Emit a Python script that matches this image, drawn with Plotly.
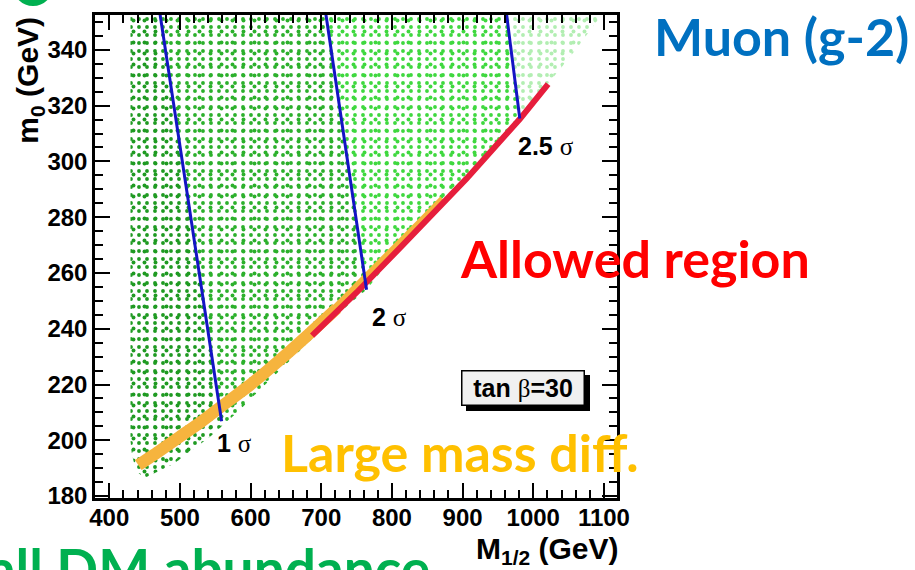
import plotly.graph_objects as go

# ---------------- data ----------------
# axis
x_range = [379.8, 1118.5]
y_range = [179.3, 352.5]
x_ticks = [400, 500, 600, 700, 800, 900, 1000, 1100]
y_ticks = [180, 200, 220, 240, 260, 280, 300, 320, 340]

# scanned-point regions (boundaries in M1/2 [GeV], m0 [GeV])
dark_M = [430, 471.7, 559.0, 559.0, 546, 522, 490, 450, 438, 432, 430]
dark_m0 = [353, 353, 206.85, 205.0, 202.0, 197.3, 191.4, 186.5, 189.0, 195.0, 200.0]

mid_M = [471.7, 706.4, 764.1, 740, 700, 663, 644, 611, 583, 559, 559]
mid_m0 = [353, 353, 254.0, 249.0, 239.5, 230.5, 225.9, 217.6, 210.4, 205.0, 206.85]

bright_M = [706.4, 962.1, 980.9, 945, 905.5, 860, 811, 764.1]
bright_m0 = [353, 353, 315.4, 305.0, 293.8, 281.5, 268.9, 254.0]

pale_M = [962.1, 1098, 1060, 1020.9, 980.9]
pale_m0 = [353, 353, 340.0, 327.7, 315.4]

# large mass difference band (orange)
band_M = [441, 470, 500, 530, 559, 600, 640, 680, 722]
band_m0 = [191.1, 196.0, 201.3, 206.6, 212.2, 220.0, 228.5, 237.5, 247.3]
band2_M = [700, 740, 770, 800, 840, 872]
band2_m0 = [242.4, 252.3, 260.0, 268.0, 278.2, 286.5]

# allowed region (red)
red_M = [687, 750, 811, 860, 905.5, 945, 981, 1021]
red_m0 = [237.5, 253.0, 268.9, 281.5, 293.8, 305.0, 315.2, 327.7]

# muon g-2 contours
s1_M = [471.7, 559.0]
s1_m0 = [353, 206.85]
s2_M = [706.4, 764.1]
s2_m0 = [353, 254.0]
s25_M = [962.1, 980.9]
s25_m0 = [353, 315.4]

sigma_labels = ["1", "2", "2.5"]
sigma_M = [577.8, 797.0, 1018.3]
sigma_m0 = [199.1, 244.2, 305.5]

# ---------------- figure ----------------
fig = go.Figure()

def region(M, m0, col):
    for size, solid in [(8, 0.18), (11, 0.10)]:
        fig.add_trace(go.Scatter(
            x=M, y=m0, mode="lines", fill="toself",
            line=dict(width=0, color=col),
            fillcolor="rgba(0,0,0,0)",
            fillpattern=dict(shape=".", fgcolor=col, bgcolor="rgba(255,255,255,0)",
                             size=size, solidity=solid, fillmode="replace"),
            hoverinfo="skip", showlegend=False))

region(dark_M, dark_m0, "#1f9a22")
region(mid_M, mid_m0, "#2cb02c")
region(bright_M, bright_m0, "#3fd83f")
region(pale_M, pale_m0, "#b2eeb2")

fig.add_trace(go.Scatter(x=band_M, y=band_m0, mode="lines",
                         line=dict(color="#f6b43e", width=12, shape="spline", smoothing=0.6),
                         hoverinfo="skip", showlegend=False))
fig.add_trace(go.Scatter(x=band2_M, y=band2_m0, mode="lines",
                         line=dict(color="#f6b43e", width=7),
                         hoverinfo="skip", showlegend=False))
fig.add_trace(go.Scatter(x=red_M, y=red_m0, mode="lines",
                         line=dict(color="#e61e3c", width=6),
                         hoverinfo="skip", showlegend=False))
for M, m0 in [(s1_M, s1_m0), (s2_M, s2_m0), (s25_M, s25_m0)]:
    fig.add_trace(go.Scatter(x=M, y=m0, mode="lines",
                             line=dict(color="#1414c4", width=3),
                             hoverinfo="skip", showlegend=False))

# sigma labels
for lab, M, m0 in zip(sigma_labels, sigma_M, sigma_m0):
    fig.add_annotation(
        x=M, y=m0, xref="x", yref="y", showarrow=False,
        xanchor="center", yanchor="middle",
        text=lab + " <span style='font-family:Liberation Serif;font-weight:normal'>σ</span>",
        font=dict(family="Liberation Sans", size=25, color="black", weight="bold"))

W, H = 915, 570
L, R, T, B = 95, 915 - 617.3, 12, 72
pw, ph = W - L - R, H - T - B

def px(xp):
    return (xp - L) / pw

def py(yp):
    return (H - B - yp) / ph

# tan beta box (shadow + box)
for dx, bg, fc in [(5, "black", "black"), (0, "#f0f0f0", "black")]:
    fig.add_annotation(
        x=px(523.5), y=py(387.5), xref="paper", yref="paper", showarrow=False,
        xanchor="center", yanchor="middle",
        xshift=dx, yshift=-dx,
        text="tan <span style='font-family:Liberation Serif;font-weight:normal'>β</span>=30",
        font=dict(family="Liberation Sans", size=25, color=fc, weight="bold"),
        bgcolor=bg, bordercolor="black", borderwidth=1.5, borderpad=1,
        width=119, height=31)

# axis titles
fig.add_annotation(x=px(30), y=py(78), xref="paper", yref="paper", showarrow=False,
                   xanchor="center", yanchor="middle",
                   text="m<sub>0</sub> (GeV)", textangle=-90,
                   font=dict(family="Liberation Sans", size=30, color="black", weight="bold"))
fig.add_annotation(x=px(621), y=py(551), xref="paper", yref="paper", showarrow=False,
                   xanchor="right", yanchor="middle",
                   text="M<sub>1/2</sub> (GeV)",
                   font=dict(family="Liberation Sans", size=30, color="black", weight="bold"))

# slide texts
big = dict(family="Lato", size=52, weight="bold")
fig.add_annotation(x=px(782), y=py(33), xref="paper", yref="paper", showarrow=False,
                   xanchor="center", yanchor="middle",
                   text="Muon (g-2)", font=dict(big, color="#0070C0"))
fig.add_annotation(x=px(635), y=py(257), xref="paper", yref="paper", showarrow=False,
                   xanchor="center", yanchor="middle",
                   text="Allowed region", font=dict(big, color="#FF0000"))
fig.add_annotation(x=px(460), y=py(452), xref="paper", yref="paper", showarrow=False,
                   xanchor="center", yanchor="middle",
                   text="Large mass diff.", font=dict(big, color="#FFC000"))
fig.add_annotation(x=px(432), y=py(568), xref="paper", yref="paper", showarrow=False,
                   xanchor="right", yanchor="middle",
                   text="Small DM abundance",
                   font=dict(family="Lato", size=55, weight="bold", color="#00B050"))

# partial decorative circle top-left
fig.add_shape(type="circle", xref="paper", yref="paper",
              x0=px(13), x1=px(53), y0=py(3), y1=py(-37),
              fillcolor="#00B050", line=dict(width=0), layer="above")

axis_common = dict(
    showgrid=False, zeroline=False, showline=True, linecolor="black", linewidth=2.5,
    mirror="allticks", ticks="inside", ticklen=15, tickwidth=1.5, tickcolor="black",
    tickfont=dict(family="Liberation Sans", size=24, color="black", weight="bold"),
)
fig.update_xaxes(range=x_range, tickvals=x_ticks, ticklabelstandoff=-4,
                 minor=dict(ticks="inside", ticklen=8, tickwidth=1.5, tickcolor="black", dtick=20, tick0=400),
                 **axis_common)
fig.update_yaxes(range=y_range, tickvals=y_ticks,
                 minor=dict(ticks="inside", ticklen=8, tickwidth=1.5, tickcolor="black", dtick=5, tick0=180),
                 **axis_common)

fig.update_layout(width=W, height=H, margin=dict(l=L, r=R, t=T, b=B),
                  paper_bgcolor="white", plot_bgcolor="white", showlegend=False)

fig.write_html("out.html", config={"displayModeBar": False},
               post_script="document.body.style.margin='0';document.body.style.overflow='hidden';")
